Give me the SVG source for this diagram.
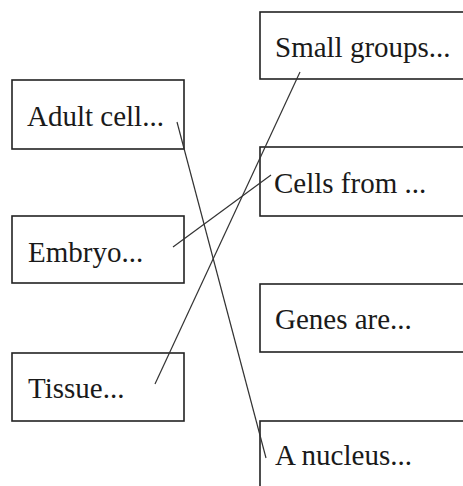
<svg xmlns="http://www.w3.org/2000/svg" width="463" height="486" viewBox="0 0 463 486">
<style>
.box{fill:#fff;stroke:#222;stroke-width:1.6}
.lbl{font-family:"Liberation Serif","Times New Roman",serif;font-size:29px;fill:#1a1a1a}
.con{stroke:#333;stroke-width:1.2;fill:none}
</style>
<rect width="463" height="486" fill="#fff"/>
<g id="node-adult"><rect class="box" x="12" y="80" width="172" height="69"/><text class="lbl" x="27" y="126">Adult cell...</text></g>
<g id="node-embryo"><rect class="box" x="12" y="216" width="172" height="67"/><text class="lbl" x="28" y="262">Embryo...</text></g>
<g id="node-tissue"><rect class="box" x="12" y="353" width="172" height="68"/><text class="lbl" x="28" y="398">Tissue...</text></g>
<g id="node-small"><rect class="box" x="260" y="12" width="210" height="67"/><text class="lbl" x="275" y="57">Small groups...</text></g>
<g id="node-cells"><rect class="box" x="260" y="147" width="210" height="69"/><text class="lbl" x="274" y="193">Cells from ...</text></g>
<g id="node-genes"><rect class="box" x="260" y="284" width="210" height="68"/><text class="lbl" x="275" y="329">Genes are...</text></g>
<g id="node-nucleus"><rect class="box" x="260" y="421" width="210" height="80"/><text class="lbl" x="275" y="465">A nucleus...</text></g>
<g id="connectors">
<line class="con" x1="177" y1="122" x2="266" y2="458"/>
<line class="con" x1="173" y1="247" x2="271" y2="175"/>
<line class="con" x1="155" y1="384" x2="300" y2="72"/>
</g>
</svg>
